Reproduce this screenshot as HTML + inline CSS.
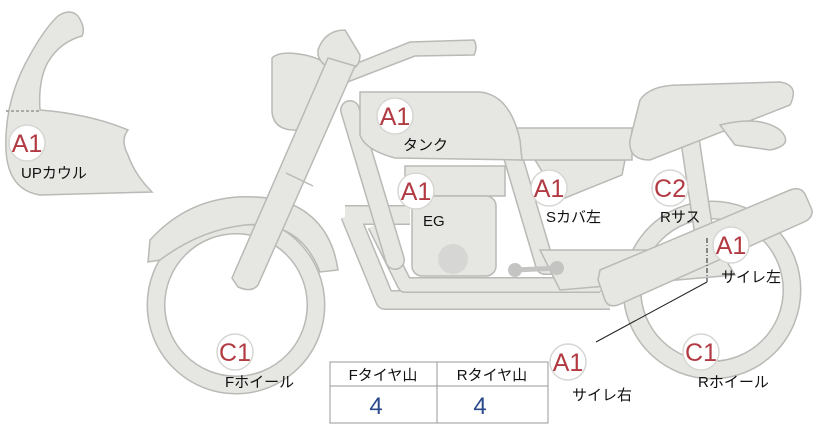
<!DOCTYPE html>
<html><head><meta charset="utf-8"><style>
html,body{margin:0;padding:0;background:#fff;width:822px;height:425px;overflow:hidden}
svg text{font-family:"Liberation Sans","Noto Sans CJK JP",sans-serif}
.p{fill:#e6e6e3;stroke:#b9b9b6;stroke-width:1.5}
.b{fill:#fff;stroke:#d6d6d3;stroke-width:1.5}
.c{fill:#b23b43;font-size:25px;font-weight:300}
.l{fill:#111;font-size:15px}
</style></head><body>
<svg width="822" height="425" viewBox="0 0 822 425">
<path class="p" d="M58,16 Q70,8 78,16 Q86,28 82,36 Q60,42 48,62 Q38,80 40,110 Q90,114 128,130 Q120,140 128,155 Q135,175 152,192 L40,195 Q8,190 6,150 Q4,100 30,55 Q45,28 58,16Z"/>
<line x1="6" y1="111" x2="40" y2="111" stroke="#aaa" stroke-width="2" stroke-dasharray="3,2"/>
<circle cx="236" cy="305" r="80" fill="none" stroke="#b9b9b6" stroke-width="19"/>
<circle cx="236" cy="305" r="80" fill="none" stroke="#e6e6e3" stroke-width="16"/>
<path class="p" d="M150,240 Q200,185 280,200 Q330,215 338,270 L320,272 Q300,220 245,225 Q200,230 160,260 L148,262Z"/>
<circle cx="712" cy="290" r="80" fill="none" stroke="#b9b9b6" stroke-width="19"/>
<circle cx="712" cy="290" r="80" fill="none" stroke="#e6e6e3" stroke-width="16"/>
<path d="M345,215 L410,215 M350,215 L385,300 L610,300" fill="none" stroke="#b9b9b6" stroke-width="20" stroke-linejoin="round"/>
<path d="M345,215 L410,215 M350,215 L385,300 L610,300" fill="none" stroke="#e6e6e3" stroke-width="17" stroke-linejoin="round"/>
<path d="M375,225 L405,285 L600,285" fill="none" stroke="#b9b9b6" stroke-width="16" stroke-linejoin="round"/>
<path d="M375,225 L405,285 L600,285" fill="none" stroke="#e6e6e3" stroke-width="13" stroke-linejoin="round"/>
<path d="M350,110 L395,260 M505,130 L545,265 M545,265 L600,265 M690,140 L705,240" fill="none" stroke="#b9b9b6" stroke-width="20" stroke-linecap="round"/>
<path d="M350,110 L395,260 M505,130 L545,265 M545,265 L600,265 M690,140 L705,240" fill="none" stroke="#e6e6e3" stroke-width="17" stroke-linecap="round"/>
<path class="p" d="M540,250 L720,250 L735,275 L560,290Z"/>
<rect class="p" x="405" y="166" width="100" height="30"/>
<rect class="p" x="412" y="196" width="84" height="80" rx="10"/>
<circle cx="453" cy="259" r="15" fill="#d6d6d4"/>
<line x1="515" y1="270" x2="560" y2="268" stroke="#c4c4c2" stroke-width="5"/>
<circle cx="515" cy="270" r="7" fill="#c4c4c2"/><circle cx="557" cy="268" r="7" fill="#c4c4c2"/>
<path class="p" d="M535,160 L625,160 L622,175 L560,200Z"/>
<path class="p" d="M515,128 L632,128 L632,160 L520,160Z"/>
<path class="p" d="M640,100 Q650,85 680,85 L780,82 Q800,85 790,105 L650,160 Q628,160 630,140Z"/>
<path class="p" d="M720,125 Q760,115 780,130 Q795,145 770,150 L735,145Z"/>
<path class="p" d="M360,92 L480,92 Q510,95 520,140 L522,160 L395,158 Q365,150 360,135Z"/>
<path class="p" d="M340,70 L410,42 L474,40 Q478,47 474,55 L415,56 L345,83Z"/>
<path class="p" d="M272,58 Q280,50 305,55 Q338,62 340,90 Q338,112 300,130 Q274,132 272,112Z"/>
<path class="p" d="M318,50 Q325,30 345,30 L360,55 Q360,70 345,70 Q322,70 318,55Z"/>
<path class="p" d="M328,58 L355,66 L258,285 Q252,293 238,287 L232,278Z"/>
<line x1="286" y1="173" x2="313" y2="186" stroke="#b9b9b6" stroke-width="1.5"/>
<path class="p" d="M600,270 L790,190 Q800,186 805,194 L812,210 Q813,218 804,222 L618,305 Q608,308 605,300 L598,280Z"/>
<line x1="707" y1="238" x2="707" y2="282" stroke="#222" stroke-width="1" stroke-dasharray="5,2,1,2"/>
<line x1="707" y1="282" x2="596" y2="342" stroke="#222" stroke-width="1"/>
<g>
<circle class="b" cx="27" cy="143" r="18"/><text class="c" x="27" y="152" text-anchor="middle">A1</text>
<circle class="b" cx="395" cy="116" r="18"/><text class="c" x="395" y="125" text-anchor="middle">A1</text>
<circle class="b" cx="416" cy="191" r="18"/><text class="c" x="416" y="200" text-anchor="middle">A1</text>
<circle class="b" cx="549" cy="188" r="18"/><text class="c" x="549" y="197" text-anchor="middle">A1</text>
<circle class="b" cx="670" cy="188" r="18"/><text class="c" x="670" y="197" text-anchor="middle">C2</text>
<circle class="b" cx="731" cy="245" r="18"/><text class="c" x="731" y="254" text-anchor="middle">A1</text>
<circle class="b" cx="568" cy="362" r="18"/><text class="c" x="568" y="371" text-anchor="middle">A1</text>
<circle class="b" cx="701" cy="352" r="18"/><text class="c" x="701" y="361" text-anchor="middle">C1</text>
<circle class="b" cx="235" cy="352" r="18"/><text class="c" x="235" y="361" text-anchor="middle">C1</text>
</g>
<text class="l" x="21" y="178">UPカウル</text>
<text class="l" x="403" y="150">タンク</text>
<text class="l" x="423" y="226">EG</text>
<text class="l" x="546" y="222">Sカバ左</text>
<text class="l" x="660" y="222">Rサス</text>
<text class="l" x="721" y="282">サイレ左</text>
<text class="l" x="572" y="400">サイレ右</text>
<text class="l" x="698" y="387">Rホイール</text>
<text class="l" x="225" y="387">Fホイール</text>
<rect x="330" y="362" width="218" height="61" fill="#fff" stroke="#999" stroke-width="1"/>
<line x1="330" y1="386" x2="548" y2="386" stroke="#999"/>
<line x1="437" y1="362" x2="437" y2="423" stroke="#999"/>
<text class="l" x="383" y="380" text-anchor="middle">Fタイヤ山</text>
<text class="l" x="492" y="380" text-anchor="middle">Rタイヤ山</text>
<text x="376" y="414" fill="#2a4a8a" font-size="24" text-anchor="middle">4</text>
<text x="480" y="414" fill="#2a4a8a" font-size="24" text-anchor="middle">4</text>
</svg>
</body></html>
